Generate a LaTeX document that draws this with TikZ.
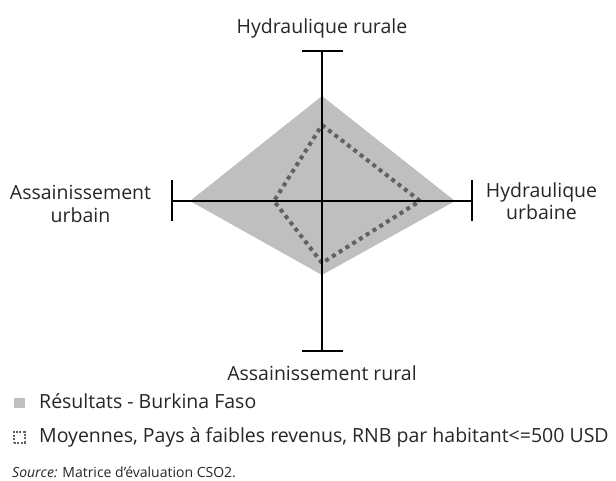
\documentclass[tikz,border=0pt]{standalone}
\usepackage{fontspec}
\setmainfont{Open Sans}
\usetikzlibrary{positioning, calc}

\begin{document}
\begin{tikzpicture}[x=1pt, y=-1pt]

    \tikzset{
        axisLine/.style={line width=2.6pt, black},
        tickLine/.style={line width=2.6pt, black},
        axisLabel/.style={align=center, inner sep=0pt, font=\fontsize{19.5}{22.5}\selectfont, text=black!85},
        resultArea/.style={fill=black!25, draw=none},
        meanLine/.style={draw=black!62, line width=4pt, dash pattern=on 4pt off 4pt},
        legendText/.style={anchor=base west, inner sep=0pt, font=\fontsize{19.5}{22.5}\selectfont, text=black!85},
        sourceText/.style={anchor=base west, inner sep=0pt, font=\fontsize{14}{17}\selectfont, text=black!85}
    }

    \useasboundingbox (0,0) rectangle (616,481);

    % Centre et extremites des axes
    \coordinate (c) at (322,201);
    \coordinate (tN) at ($(c)+(0,-150)$);
    \coordinate (tE) at ($(c)+(150,0)$);
    \coordinate (tS) at ($(c)+(0,150)$);
    \coordinate (tW) at ($(c)+(-150,0)$);

    % Resultats - Burkina Faso
    \coordinate (rN) at ($(c)+(0,-105)$);
    \coordinate (rE) at ($(c)+(133,0)$);
    \coordinate (rS) at ($(c)+(0,74)$);
    \coordinate (rW) at ($(c)+(-132,0)$);
    \path[resultArea] (rN) -- (rE) -- (rS) -- (rW) -- cycle;

    % Moyennes des pays a faibles revenus
    \coordinate (mN) at ($(c)+(0,-76)$);
    \coordinate (mE) at ($(c)+(98,0)$);
    \coordinate (mS) at ($(c)+(0,62)$);
    \coordinate (mW) at ($(c)+(-48,0)$);
    \draw[meanLine] (mN) -- (mE) -- (mS) -- (mW) -- cycle;

    % Axes
    \draw[axisLine] (tW) -- (tE);
    \draw[axisLine] (tN) -- (tS);
    \foreach \t in {tN, tS} {
        \draw[tickLine] ($(\t)+(-20.5,0)$) -- ($(\t)+(20.5,0)$);
    }
    \foreach \t in {tE, tW} {
        \draw[tickLine] ($(\t)+(0,-20.5)$) -- ($(\t)+(0,20.5)$);
    }

    % Etiquettes des axes
    \node[axisLabel, anchor=base] (lblN) at ($(tN)+(0,-17)$) {Hydraulique rurale};
    \node[axisLabel, anchor=base] (lblS) at ($(tS)+(0,29.5)$) {Assainissement rural};
    \node[axisLabel, anchor=north] (lblW) at ($(tW)+(-91.5,-16)$) {Assainissement\\urbain};
    \node[axisLabel, anchor=north] (lblE) at ($(tE)+(69.5,-19)$) {Hydraulique\\urbaine};

    % Legende
    \node[fill=black!25, minimum size=10.5pt, inner sep=0pt] (keyRes) at (19.5,403) {};
    \node[legendText] (txtRes) at (39,408) {Résultats - Burkina Faso};
    \node[draw=black!62, line width=2pt, dash pattern=on 2pt off 1.6pt, minimum size=11pt, inner sep=0pt] (keyMean) at (19,437) {};
    \node[legendText] (txtMean) at (39,442) {Moyennes, Pays à faibles revenus, RNB par habitant<=500 USD};
    \node[sourceText] (txtSrc) at (12,477) {\textit{Source:} Matrice d’évaluation CSO2.};

\end{tikzpicture}
\end{document}
